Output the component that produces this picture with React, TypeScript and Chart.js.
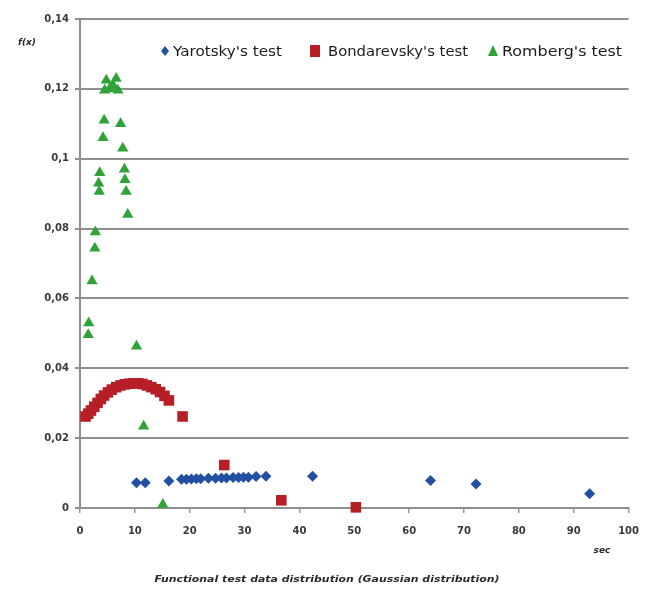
import React, { useEffect, useRef } from 'react';
import { Chart, registerables } from 'chart.js';

Chart.register(...registerables);

// ---- Data ----
const yarotskyX = [10.3, 11.9, 16.2, 18.5, 19.4, 20.3, 21.2, 22.0, 23.4, 24.7, 25.8, 26.7, 27.9, 28.9, 29.8, 30.7, 32.1, 33.9, 42.4, 63.9, 72.2, 92.9];
const yarotskyY = [0.0072, 0.0072, 0.0077, 0.0082, 0.0082, 0.0083, 0.0084, 0.0084, 0.0085, 0.0085, 0.0086, 0.0086, 0.0087, 0.0087, 0.0088, 0.0088, 0.009, 0.0091, 0.0091, 0.0079, 0.0069, 0.0041];

const bondarevskyX = [1.0, 1.5, 2.0, 2.6, 3.2, 3.8, 4.4, 5.1, 5.8, 6.6, 7.4, 8.2, 9.0, 9.8, 10.6, 11.4, 12.2, 13.0, 13.8, 14.6, 15.4, 16.2, 18.7, 26.3, 36.7, 50.3];
const bondarevskyY = [0.0262, 0.027, 0.0279, 0.029, 0.0301, 0.0312, 0.0322, 0.0331, 0.0339, 0.0346, 0.0351, 0.0354, 0.0356, 0.0357, 0.0357, 0.0355, 0.0351, 0.0346, 0.034, 0.0332, 0.0321, 0.0308, 0.0262, 0.0123, 0.0022, 0.0002];

const rombergX = [1.5, 1.6, 2.2, 2.7, 2.8, 3.5, 3.4, 3.6, 4.2, 4.4, 4.5, 4.8, 5.4, 6.0, 6.6, 6.9, 7.4, 7.8, 8.1, 8.2, 8.4, 8.7, 10.3, 11.6, 15.1];
const rombergY = [0.0496, 0.053, 0.065, 0.0744, 0.079, 0.0906, 0.093, 0.096, 0.106, 0.111, 0.1196, 0.1225, 0.12, 0.121, 0.123, 0.1196, 0.11, 0.103, 0.097, 0.094, 0.0906, 0.084, 0.0463, 0.0234, 0.001];

const seriesNames = ["Yarotsky's test", "Bondarevsky's test", "Romberg's test"];
const seriesColors = ['#2251a3', '#b71f27', '#2fa338'];
const yAxisTitle = 'f(x)';
const xAxisTitle = 'sec';
const chartTitle = 'Functional test data distribution (Gaussian distribution)';

const xMin = 0, xMax = 100, xStep = 10;
const yMin = 0, yMax = 0.14, yStep = 0.02;

function toPoints(xs: number[], ys: number[]) {
  return xs.map((x, i) => ({ x, y: ys[i] }));
}

function fitText(ctx: CanvasRenderingContext2D, text: string, x: number, y: number, targetW: number, align: 'left' | 'center') {
  const w = ctx.measureText(text).width;
  const s = targetW / w;
  ctx.save();
  ctx.translate(x, y);
  ctx.scale(s, 1);
  ctx.textAlign = align;
  ctx.fillText(text, 0, 0);
  ctx.restore();
}

function drawMarker(ctx: CanvasRenderingContext2D, shape: string, cx: number, cy: number, color: string) {
  ctx.save();
  ctx.fillStyle = color;
  ctx.beginPath();
  if (shape === 'diamond') {
    ctx.moveTo(cx, cy - 5);
    ctx.lineTo(cx + 4, cy);
    ctx.lineTo(cx, cy + 5);
    ctx.lineTo(cx - 4, cy);
  } else if (shape === 'square') {
    ctx.rect(cx - 5, cy - 6, 10, 12);
  } else {
    ctx.moveTo(cx, cy - 6);
    ctx.lineTo(cx + 5, cy + 5);
    ctx.lineTo(cx - 5, cy + 5);
  }
  ctx.closePath();
  ctx.fill();
  ctx.restore();
}

const annotationsPlugin = {
  id: 'annotationsPlugin',
  afterDraw(chart: any) {
    const ctx: CanvasRenderingContext2D = chart.ctx;
    ctx.save();
    // legend
    const ly = 51;
    const items = [
      { shape: 'diamond', mx: 165, tx: 173, tw: 109 },
      { shape: 'square', mx: 315, tx: 328, tw: 140 },
      { shape: 'triangle', mx: 493, tx: 502, tw: 120 },
    ];
    ctx.font = '14px "DejaVu Sans"';
    ctx.textBaseline = 'middle';
    items.forEach((it, i) => {
      drawMarker(ctx, it.shape, it.mx, ly, seriesColors[i]);
      ctx.fillStyle = '#1c1c1c';
      fitText(ctx, seriesNames[i], it.tx, ly + 1, it.tw, 'left');
    });
    // axis titles
    ctx.fillStyle = '#2a2a2a';
    ctx.font = 'italic bold 9px "DejaVu Sans"';
    ctx.textAlign = 'center';
    ctx.fillText(yAxisTitle, 27, 43);
    ctx.fillText(xAxisTitle, 602, 551);
    // chart title at bottom
    ctx.font = 'italic bold 9px "DejaVu Sans"';
    fitText(ctx, chartTitle, 327, 580, 345, 'center');
    ctx.restore();
  },
};

export default function App() {
  const canvasRef = useRef<HTMLCanvasElement | null>(null);

  useEffect(() => {
    if (!canvasRef.current) return;
    const tickFont = { family: '"DejaVu Sans"', size: 10, weight: 'bold' as const };
    const chart = new Chart(canvasRef.current, {
      type: 'scatter',
      data: {
        datasets: [
          {
            label: seriesNames[0],
            data: toPoints(yarotskyX, yarotskyY),
            pointStyle: 'rectRot',
            pointRadius: 5.5,
            backgroundColor: seriesColors[0],
            borderColor: seriesColors[0],
            borderWidth: 0,
            clip: false as any,
          },
          {
            label: seriesNames[1],
            data: toPoints(bondarevskyX, bondarevskyY),
            pointStyle: 'rect',
            pointRadius: 7.5,
            backgroundColor: seriesColors[1],
            borderColor: seriesColors[1],
            borderWidth: 0,
            clip: false as any,
          },
          {
            label: seriesNames[2],
            data: toPoints(rombergX, rombergY),
            pointStyle: 'triangle',
            pointRadius: 6.5,
            backgroundColor: seriesColors[2],
            borderColor: seriesColors[2],
            borderWidth: 0,
            clip: false as any,
          },
        ],
      },
      options: {
        responsive: false,
        animation: false,
        devicePixelRatio: 1,
        layout: { padding: { left: 0, top: 19, right: 18, bottom: 0 } },
        plugins: {
          legend: { display: false },
          tooltip: { enabled: false },
          title: { display: false },
        },
        scales: {
          x: {
            type: 'linear',
            min: xMin,
            max: xMax,
            afterFit: (s: any) => { s.height = 84; },
            ticks: {
              stepSize: xStep,
              padding: 12,
              color: '#3a3a3a',
              font: tickFont,
              maxRotation: 0,
            },
            grid: {
              drawOnChartArea: false,
              drawTicks: true,
              tickLength: 5,
              color: '#9a9a9a',
              lineWidth: 1.5,
            },
            border: { display: true, color: '#8e8e8e', width: 2 },
          },
          y: {
            type: 'linear',
            min: yMin,
            max: yMax,
            afterFit: (s: any) => { s.width = 80; },
            ticks: {
              stepSize: yStep,
              padding: 6,
              color: '#3a3a3a',
              font: tickFont,
              callback: (v: any) => String(Number(Number(v).toFixed(2))).replace('.', ','),
            },
            grid: {
              drawTicks: true,
              tickLength: 5,
              color: '#8e8e8e',
              lineWidth: 2,
            },
            border: { display: true, color: '#8e8e8e', width: 2 },
          },
        },
      },
      plugins: [annotationsPlugin],
    } as any);
    return () => chart.destroy();
  }, []);

  return (
    <div style={{ position: 'absolute', left: 0, top: 0, width: 651, height: 592, background: '#fff' }}>
      <canvas ref={canvasRef} width={651} height={592} style={{ display: 'block' }} />
    </div>
  );
}
